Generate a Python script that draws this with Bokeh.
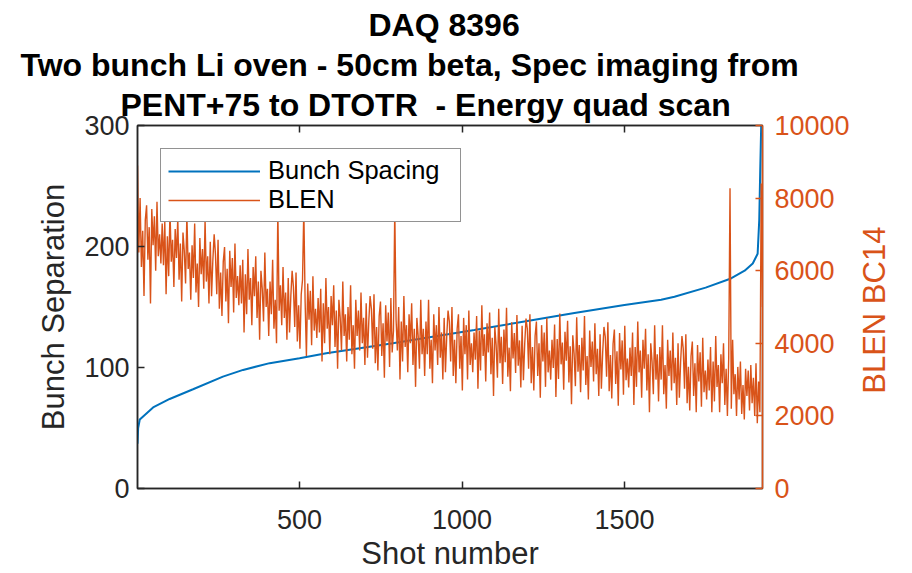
import math
from bokeh.plotting import figure
from bokeh.models import Range1d, LinearAxis, FixedTicker, Title, Legend, LegendItem
from bokeh.embed import file_html
from bokeh.resources import INLINE

# ---- data ----
title_lines = ["DAQ 8396",
               "Two bunch Li oven - 50cm beta, Spec imaging from",
               "PENT+75 to DTOTR \u00a0- Energy quad scan"]

spacing_shot = [1, 3, 8, 20, 49, 100, 172, 264, 326, 408, 500, 582, 685, 787, 900,
                1038, 1192, 1346, 1500, 1613, 1654, 1750, 1828, 1870, 1895, 1910,
                1915, 1918, 1921, 1925]
spacing_val = [37, 50, 57, 60, 67, 74, 82, 92.5, 98, 103.6, 107.7, 111.8, 116, 120, 125,
               131, 138, 145, 151.7, 156, 158.5, 166, 173.6, 180, 186, 194,
               222, 263, 300, 320]

blen_shot = list(range(1, 1918, 4)) + [1921, 1925]
blen_val = [
    8900, 6500, 8000, 6100, 7100, 5300, 7400, 7800, 6300, 7200, 5100, 7700, 6700, 7500, 6000, 7900, 6400, 7000, 6200, 7300,
    6150, 7350, 5350, 6950, 5850, 7650, 6250, 6850, 5550, 7150, 6350, 7450, 5750, 6750, 5150, 7050, 6550, 5650, 7550, 6050,
    6500, 5200, 6700, 5800, 7300, 5400, 6200, 5000, 6900, 5900, 6600, 5500, 7400, 5700, 6400, 5100, 6800, 5300, 6300, 7000,
    6450, 5350, 6850, 4950, 5950, 4750, 6250, 6650, 5150, 6050, 4550, 6550, 5550, 6350, 4850, 6750, 5250, 5850, 5050, 6150,
    5100, 6300, 4300, 5900, 4800, 6600, 5200, 5800, 4500, 6100, 5300, 6400, 4700, 5700, 4100, 6000, 5500, 4600, 6500, 5000,
    5500, 4200, 5700, 4800, 6300, 4400, 5200, 4000, 7700, 4900, 5600, 4500, 6100, 4700, 5400, 4100, 5800, 4300, 5300, 6000,
    5550, 4450, 5950, 4050, 5050, 3850, 5350, 5750, 7700, 5150, 3650, 5650, 4650, 5450, 3950, 5850, 4350, 4950, 4150, 5250,
    4300, 5500, 3500, 5100, 4000, 5800, 4400, 5000, 3700, 5300, 4500, 5600, 3900, 4900, 3300, 5200, 4700, 3800, 5700, 4200,
    4800, 3500, 5000, 4100, 5600, 3700, 4500, 3300, 5200, 4200, 4900, 3800, 5400, 4000, 4700, 3400, 5100, 3600, 4600, 5300,
    4950, 3850, 5350, 3450, 4450, 3250, 4750, 5150, 3650, 4550, 3050, 5050, 4050, 4850, 3350, 5250, 3750, 4350, 7700, 4650,
    3800, 5000, 3000, 4600, 3500, 5300, 3900, 4500, 3200, 4800, 4000, 5100, 3400, 4400, 2800, 4700, 4200, 3300, 5200, 3700,
    4400, 3100, 4600, 3700, 5200, 3300, 4100, 2900, 4800, 3800, 4500, 3400, 5000, 3600, 4300, 3000, 4700, 3200, 4200, 4900,
    4600, 3500, 5000, 3100, 4100, 2900, 4400, 4800, 3300, 4200, 2700, 4700, 3700, 4500, 3000, 4900, 3400, 4000, 3200, 4300,
    3550, 4750, 2750, 4350, 3250, 5050, 3650, 4250, 2950, 4550, 3750, 4850, 3150, 4150, 2550, 4450, 3950, 3050, 4950, 3450,
    4180, 2880, 4380, 3480, 4980, 3080, 3880, 2680, 4580, 3580, 4280, 3180, 4780, 3380, 4080, 2780, 4480, 2980, 3980, 4680,
    4400, 3300, 4800, 2900, 3900, 2700, 4200, 4600, 3100, 4000, 2500, 4500, 3500, 4300, 2800, 4700, 3200, 3800, 3000, 4100,
    3320, 4520, 2520, 4120, 3020, 4820, 3420, 4020, 2720, 4320, 3520, 4620, 2920, 3920, 2320, 4220, 3720, 2820, 4720, 3220,
    3950, 2650, 4150, 3250, 4750, 2850, 3650, 2450, 4350, 3350, 4050, 2950, 4550, 3150, 3850, 2550, 4250, 2750, 3750, 4450,
    4180, 3080, 4580, 2680, 3680, 2480, 3980, 4380, 2880, 3780, 2280, 4280, 3280, 4080, 2580, 4480, 2980, 3580, 2780, 3880,
    3100, 4300, 2300, 3900, 2800, 4600, 3200, 3800, 2500, 4100, 3300, 4400, 2700, 3700, 2100, 4000, 3500, 2600, 4500, 3000,
    3700, 2400, 3900, 3000, 4500, 2600, 3400, 2200, 4100, 3100, 3800, 2700, 4300, 2900, 3600, 2300, 4000, 2500, 3500, 4200,
    3850, 2750, 4250, 2350, 3350, 2150, 3650, 4050, 2550, 3450, 2100, 3950, 2950, 3750, 2250, 4150, 2650, 3250, 2450, 3550,
    2700, 3900, 2100, 3500, 2400, 4200, 2800, 3400, 2100, 3700, 2900, 4000, 2300, 3300, 2000, 3600, 8270, 2200, 4100, 2600,
    3150, 2000, 3350, 2450, 3500, 2050, 2850, 1900, 3300, 2550, 3250, 2150, 3400, 2350, 3050, 2000, 3450, 1800, 2950, 2100,
    8400, 5000,
]

x_ticks = [500, 1000, 1500]
left_ticks = [0, 100, 200, 300]
right_ticks = [0, 2000, 4000, 6000, 8000, 10000]

BLUE = "#0072BD"
ORANGE = "#D95319"
AX = "#262626"
FONT = "Liberation Sans"

p = figure(width=912, height=573, x_range=Range1d(1, 1925), y_range=Range1d(0, 300),
           output_backend="svg", toolbar_location=None, title=None,
           min_border_left=137, min_border_right=150, min_border_top=125,
           min_border_bottom=84)
p.extra_y_ranges = {"blen": Range1d(0, 10000)}
p.background_fill_color = "white"
p.border_fill_color = "white"
p.outline_line_color = AX
p.outline_line_width = 1.5
p.xgrid.visible = False
p.ygrid.visible = False

blue = p.line(spacing_shot, spacing_val, line_color=BLUE, line_width=2)
orange = p.line(blen_shot, blen_val, line_color=ORANGE, line_width=1.4, y_range_name="blen")


def style(ax, color, ticks):
    ax.ticker = FixedTicker(ticks=ticks)
    ax.minor_tick_line_color = None
    ax.major_tick_in = 7
    ax.major_tick_out = 0
    ax.axis_line_color = color
    ax.axis_line_width = 1.5
    ax.major_tick_line_color = color
    ax.major_tick_line_width = 1.5
    ax.major_label_text_color = color
    ax.major_label_text_font = FONT
    ax.major_label_text_font_size = "27px"
    ax.axis_label_text_color = color
    ax.axis_label_text_font = FONT
    ax.axis_label_text_font_size = "31px"
    ax.axis_label_text_font_style = "normal"


xa = p.xaxis[0]
style(xa, AX, x_ticks)
xa.axis_label = "Shot number"
xa.major_label_standoff = 21
xa.axis_label_standoff = 4

ya = p.yaxis[0]
style(ya, AX, left_ticks)
ya.axis_label = "Bunch Separation"
ya.major_label_standoff = 8
ya.axis_label_standoff = 10

ra = LinearAxis(y_range_name="blen")
style(ra, ORANGE, right_ticks)
ra.major_label_standoff = 12
ra.axis_label_orientation = math.pi / 2
ra.axis_label_standoff = 22
if hasattr(ra, "axis_label_align"):
    ra.axis_label_align = "start"
    ra.axis_label = "\u00a0" * 11 + "BLEN BC14"
else:
    ra.axis_label = "BLEN BC14"
p.add_layout(ra, "right")

ta = LinearAxis()
style(ta, AX, x_ticks)
ta.major_label_overrides = {500: "", 1000: "", 1500: ""}
ta.major_label_standoff = 0
p.add_layout(ta, "above")

title_offsets = [231, -117, -17]
title_standoffs = [3, 0, 5]
for txt, off, so in reversed(list(zip(title_lines, title_offsets, title_standoffs))):
    p.add_layout(Title(text=txt, align="left", offset=off, text_font_size="32px", text_font=FONT,
                       text_font_style="bold", text_color="black", standoff=so), "above")

legend = Legend(items=[LegendItem(label="Bunch Spacing", renderers=[blue]),
                       LegendItem(label="BLEN", renderers=[orange])],
                location=(23, 266), orientation="vertical",
                label_text_font=FONT, label_text_font_size="25.5px", label_text_color="black",
                glyph_width=92, glyph_height=28, label_height=28, label_width=185,
                label_standoff=8, padding=7, spacing=0, margin=0,
                border_line_color=AX, border_line_width=1.5,
                background_fill_color="white", background_fill_alpha=1.0)
p.add_layout(legend)

open("out.html", "w").write(file_html(p, INLINE))
